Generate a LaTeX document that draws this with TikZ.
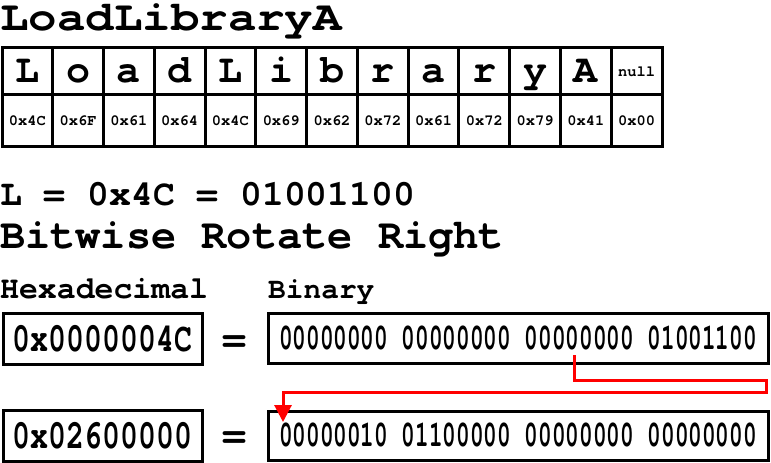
\documentclass[tikz,border=0pt]{standalone}
\usepackage{fontspec}
\usepackage{graphicx}
\usetikzlibrary{positioning,arrows.meta}
\newfontfamily\courfont{texgyrecursor}[Extension=.otf, UprightFont=*-regular, BoldFont=*-bold]
\newcommand{\cfont}[1]{\courfont\bfseries\fontsize{#1}{#1}\selectfont}

\begin{document}
\begin{tikzpicture}[x=1pt, y=-1pt,
		txt/.style={anchor=base west, inner sep=0pt},
		chrcell/.style={draw=black, line width=3pt, anchor=north west, outer sep=0pt, inner sep=0pt,
			minimum width=50.77pt, minimum height=46.6pt, text height=28pt, text depth=6pt, font=\cfont{40}},
		hexcell/.style={chrcell, minimum height=52.4pt, text height=10pt, text depth=0pt, font=\cfont{15.4}},
		numbox/.style={draw=black, line width=3pt, anchor=north west, outer sep=0pt, inner sep=0pt},
		rotarrow/.style={draw=red, line width=3pt, -{Triangle[width=17pt, length=17pt]}}]
	\useasboundingbox (0,0) rectangle (771,463);

	\node[txt, font=\cfont{42}] (title) at (0,30) {\scalebox{1.13}[1]{LoadLibraryA}};

	\foreach \ch/\hx [count=\i from 0] in {L/0x4C, o/0x6F, a/0x61, d/0x64, L/0x4C, i/0x69,
			b/0x62, r/0x72, a/0x61, r/0x72, y/0x79, A/0x41, {}/0x00} {
		\node[chrcell] (chr-\i) at ({2+\i*50.77},47.7) {\ch};
		\node[hexcell] (hex-\i) at ({2+\i*50.77},94.3) {\hx};
	}
	\node[font=\cfont{15.4}, text height=10pt, text depth=0pt, inner sep=0pt] (nullchr) at (chr-12) {null};

	\node[txt, font=\cfont{36.4}] (lval) at (0,205) {L = 0x4C = 01001100};
	\node[txt, font=\cfont{42}] (rotr) at (0,248) {Bitwise Rotate Right};
	\node[txt, font=\cfont{31.5}] (hexlbl) at (0,298) {Hexadecimal};
	\node[txt, font=\cfont{29.5}] (binlbl) at (268,298) {Binary};

	\node[numbox, minimum width=199pt, minimum height=51pt, text height=25pt, text depth=0pt, font=\cfont{41}]
		(hexA) at (3,313) {\scalebox{0.73}[1]{0x0000004C}};
	\node[numbox, minimum width=500pt, minimum height=50pt, text height=22pt, text depth=0pt, font=\cfont{37}]
		(binA) at (268,313) {\scalebox{0.615}[1]{00000000 00000000 00000000 01001100}};
	\node[numbox, minimum width=199pt, minimum height=51pt, text height=25pt, text depth=0pt, font=\cfont{41}]
		(hexB) at (3,410) {\scalebox{0.73}[1]{0x02600000}};
	\node[numbox, minimum width=500pt, minimum height=49pt, text height=22pt, text depth=0pt, font=\cfont{37}]
		(binB) at (268,411) {\scalebox{0.615}[1]{00000010 01100000 00000000 00000000}};

	\node[anchor=base, inner sep=0pt, font=\cfont{40}] (eqA) at (234,351) {=};
	\node[anchor=base, inner sep=0pt, font=\cfont{40}] (eqB) at (234,447) {=};

	\coordinate (rotsrc) at (574,355);
	\coordinate (rotdst) at (283,422);
	\draw[rotarrow] (rotsrc) -- (574,380) -- (766,380) -- (766,392) -- (283,392) -- (rotdst);
\end{tikzpicture}
\end{document}
